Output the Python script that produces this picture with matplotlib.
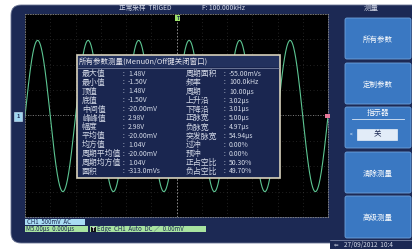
import numpy as np
import matplotlib
matplotlib.use('Agg')
import matplotlib.pyplot as plt
from matplotlib.patches import FancyBboxPatch, Rectangle

plt.rcParams['font.family'] = ['Noto Sans CJK SC', 'DejaVu Sans']

# signal / scope settings
freq_khz = 100.0          # F: 100.000kHz
v_max = 1.48
v_min = -1.50
time_div_us = 5.0         # M5.00us
volt_div = 0.5            # CH1 500mV
n_hdiv, n_vdiv = 12, 8

status_left = '正常采样  TRIGED'
status_freq = 'F: 100.000kHz'
dialog_title = '所有参数测量(Menu0n/Off键关闭窗口)'

left_names = ['最大值', '最小值', '顶值', '底值', '中间值', '峰峰值', '幅度',
              '平均值', '均方值', '周期平均值', '周期均方值', '面积']
left_vals = ['1.48V', '-1.50V', '1.48V', '-1.50V', '-20.00mV', '2.98V', '2.98V',
             '-20.00mV', '1.04V', '-20.00mV', '1.04V', '-313.0mVs']
right_names = ['周期面积', '频率', '周期', '上升沿', '下降沿', '正脉宽', '负脉宽',
               '突发脉宽', '过冲', '预冲', '正占空比', '负占空比']
right_vals = ['-55.00mVs', '100.0kHz', '10.00µs', '3.02µs', '3.01µs', '5.00µs',
              '4.97µs', '54.94µs', '0.00%', '0.00%', '50.30%', '49.70%']

menu_title = '测量'
buttons = ['所有参数', '定制参数', '指示器', '清除测量', '高级测量']
indicator_state = '关'
ch_label = 'CH1  500mV  AC'
time_label = 'M5.00µs  0.000µs'
trig_label = 'Edge  CH1  Auto  DC ∕  0.00mV'
date_label = '27/09/2012  10:4'

W, H = 412, 249
fig = plt.figure(figsize=(W / 100, H / 100), dpi=100)
fig.patch.set_facecolor('white')

navy = '#1c2954'
txt = '#d4dae8'

# background frame
ax_bg = fig.add_axes([0, 0, 1, 1], zorder=0)
ax_bg.set_xlim(0, W)
ax_bg.set_ylim(H, 0)
ax_bg.axis('off')
ax_bg.add_patch(FancyBboxPatch((11, 5), 430, 238, boxstyle='round,pad=0,rounding_size=10',
                               fc=navy, ec='#6a7494', lw=0.6))
ax_bg.add_patch(Rectangle((330, 240), 82, 9, fc=navy, ec='none'))

# oscilloscope screen
x0, x1, y0, y1 = 25, 328, 14, 217
ax = fig.add_axes([x0 / W, 1 - y1 / H, (x1 - x0) / W, (y1 - y0) / H], zorder=1)
ax.set_facecolor('black')
half_t = n_hdiv / 2 * time_div_us
half_v = n_vdiv / 2 * volt_div
ax.set_xlim(-half_t, half_t)
ax.set_ylim(-half_v, half_v)
ax.set_xticks([])
ax.set_yticks([])
for s in ax.spines.values():
    s.set_color('#8a8a8a')
    s.set_linestyle((0, (1, 2)))
    s.set_linewidth(0.6)
for i in range(1, n_hdiv):
    xv = -half_t + i * time_div_us
    ax.axvline(xv, color='#808080', lw=0.5, ls=(0, (1, 4)), alpha=0.5)
for j in range(1, n_vdiv):
    yv = -half_v + j * volt_div
    ax.axhline(yv, color='#808080', lw=0.5, ls=(0, (1, 4)), alpha=0.5)
ax.axvline(0, color='#9a9a9a', lw=0.6, ls=(0, (2, 2)))
ax.axhline(0, color='#9a9a9a', lw=0.6, ls=(0, (1, 2)))

t = np.linspace(-half_t, half_t, 1500)
mid = (v_max + v_min) / 2
amp = (v_max - v_min) / 2
v = mid + amp * np.sin(2 * np.pi * freq_khz * 1e-3 * t)
ax.plot(t, v, color='#5cc592', lw=0.8)

# UI overlay
ui = fig.add_axes([0, 0, 1, 1], zorder=2)
ui.set_xlim(0, W)
ui.set_ylim(H, 0)
ui.axis('off')
ui.patch.set_alpha(0)

ui.text(145, 7.5, status_left, color=txt, fontsize=4.8, ha='center', va='center')
ui.text(202, 7.5, status_freq, color=txt, fontsize=4.8, ha='left', va='center')
ui.text(371, 8, menu_title, color=txt, fontsize=5.4, ha='center', va='center')

# trigger markers
ui.add_patch(Rectangle((175.5, 15), 5, 6, fc='#9be06a', ec='none'))
ui.text(178, 18, 'T', color='#1c2954', fontsize=3.5, ha='center', va='center', fontweight='bold')
ui.add_patch(Rectangle((14, 112), 8, 9, fc='#9fd6f0', ec='#d0eaf8', lw=0.4))
ui.text(18, 116.5, '1', color='#1c2954', fontsize=4, ha='center', va='center', fontweight='bold')
ui.add_patch(Rectangle((325, 114), 5, 4, fc='#e8789a', ec='none'))

# measurement dialog
bx0, by0, bx1, by1 = 77, 55, 280, 178
ui.add_patch(Rectangle((bx0, by0), bx1 - bx0, by1 - by0, fc='#1a2650', ec='#d8d2bc', lw=1.2))
ui.add_patch(Rectangle((bx0 + 1, by0 + 1), bx1 - bx0 - 2, 11, fc='#22315e', ec='none'))
ui.plot([bx0 + 1, bx1 - 1], [by0 + 12.5, by0 + 12.5], color='#8a93b0', lw=0.5)
ui.text(bx0 + 2, by0 + 6.5, dialog_title, color='#e6e6ee', fontsize=5.4, ha='left', va='center')
row_y0, row_dy = 73.5, 8.9
for k in range(len(left_names)):
    yy = row_y0 + k * row_dy
    ui.text(82, yy, left_names[k], color=txt, fontsize=5.7, ha='left', va='center')
    ui.text(123, yy, ':', color=txt, fontsize=4.5, ha='left', va='center')
    ui.text(128, yy, left_vals[k], color=txt, fontsize=4.9, ha='left', va='center')
    ui.text(186, yy, right_names[k], color=txt, fontsize=5.7, ha='left', va='center')
    ui.text(224, yy, ':', color=txt, fontsize=4.5, ha='left', va='center')
    ui.text(229, yy, right_vals[k], color=txt, fontsize=4.9, ha='left', va='center')

# right menu buttons
btn_y = [(18, 59), (63, 104), (107, 148), (152, 193), (196, 238)]
for k, (ya, yb) in enumerate(btn_y):
    ui.add_patch(FancyBboxPatch((345, ya), 66, yb - ya, boxstyle='round,pad=0,rounding_size=2',
                                fc='#3a78c2', ec='#6fa2dc', lw=0.6))
    if k == 2:
        ui.text(378, ya + 6, buttons[k], color='white', fontsize=5.4, ha='center', va='center')
        ui.plot([352, 404], [ya + 12, ya + 12], color='#dce8f6', lw=0.6)
        ui.add_patch(Rectangle((357, ya + 22), 40, 11, fc='#e2ecf8', ec='#ffffff', lw=0.4))
        ui.text(377, ya + 27.5, indicator_state, color='#1c2954', fontsize=5.4, ha='center', va='center')
        ui.text(351, ya + 27.5, '<', color='white', fontsize=3.5, ha='center', va='center')
    else:
        ui.text(378, (ya + yb) / 2 + 1, buttons[k], color='white', fontsize=5.4, ha='center', va='center')

# bottom status labels
ui.add_patch(Rectangle((25, 218.5), 60, 6.5, fc='#a9dcf3', ec='none'))
ui.text(27, 221.8, ch_label, color='#1c2954', fontsize=4.4, ha='left', va='center')
ui.add_patch(Rectangle((25, 226), 63, 6, fc='#a8e3a0', ec='none'))
ui.text(26, 229, time_label, color='#1c2954', fontsize=4.4, ha='left', va='center')
ui.add_patch(Rectangle((90, 226), 116, 6, fc='#a8e3a0', ec='none'))
ui.add_patch(Rectangle((91, 226.5), 5, 5, fc='#111111', ec='none'))
ui.text(93.5, 229, 'T', color='white', fontsize=3.3, ha='center', va='center', fontweight='bold')
ui.text(97, 229, trig_label, color='#1c2954', fontsize=4.4, ha='left', va='center')

ui.plot([330, 412], [240, 240], color='#8f9ab8', lw=0.5)
ui.text(336, 245, '⇐', color=txt, fontsize=4, ha='center', va='center', family='DejaVu Sans')
ui.text(344, 245, date_label, color=txt, fontsize=4.6, ha='left', va='center')

fig.savefig('out.png', dpi=100, facecolor='white')
